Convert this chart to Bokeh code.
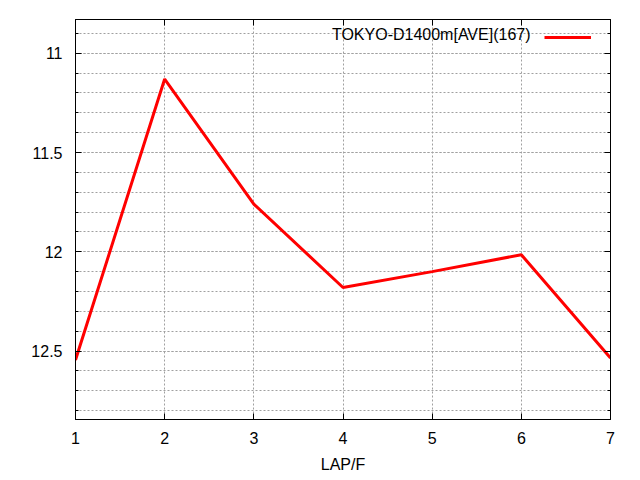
from bokeh.plotting import figure
from bokeh.models import Range1d, FixedTicker, LinearAxis, Legend, LegendItem, Label
from bokeh.embed import file_html
from bokeh.resources import INLINE

# data
laps = [1, 2, 3, 4, 5, 6, 7]
times = [12.545, 11.13, 11.76, 12.18, 12.10, 12.015, 12.535]
series_name = "TOKYO-D1400m[AVE](167)"
x_ticks = [1, 2, 3, 4, 5, 6, 7]
y_ticks = [11, 11.5, 12, 12.5]
y_tick_labels = ["11", "11.5", "12", "12.5"]
y_minor = [10.9, 11.0, 11.1, 11.2, 11.3, 11.4, 11.5, 11.6, 11.7, 11.8, 11.9,
           12.0, 12.1, 12.2, 12.3, 12.4, 12.5, 12.6, 12.7, 12.8]
x_label = "LAP/F"

FONT = "Liberation Sans"
FS = "16px"
GRID = "#a0a0a0"

p = figure(width=640, height=480, output_backend="svg", toolbar_location=None,
           x_range=Range1d(1, 7), y_range=Range1d(12.845, 10.83),
           min_border_left=75, min_border_right=30, min_border_top=19, min_border_bottom=61,
           x_axis_label=x_label)
p.background_fill_color = "white"
p.border_fill_color = "white"
p.outline_line_color = "black"
p.outline_line_width = 1

xt = FixedTicker(ticks=x_ticks, minor_ticks=[])
yt = FixedTicker(ticks=y_ticks, minor_ticks=y_minor)
p.xaxis.ticker = xt
p.yaxis.ticker = yt
p.yaxis.major_label_overrides = {t: s for t, s in zip(y_ticks, y_tick_labels)}

for ax in p.xaxis + p.yaxis:
    ax.axis_line_color = "black"
    ax.major_tick_in = 6
    ax.major_tick_out = 0
    ax.minor_tick_in = 3
    ax.minor_tick_out = 0
    ax.major_tick_line_color = "black"
    ax.minor_tick_line_color = "black"
    ax.major_label_text_font = FONT
    ax.major_label_text_font_size = FS
    ax.major_label_text_color = "black"
    ax.axis_label_text_font = FONT
    ax.axis_label_text_font_size = FS
    ax.axis_label_text_font_style = "normal"
    ax.axis_label_text_color = "black"
p.yaxis.major_label_standoff = 13
p.xaxis.major_label_standoff = 12
p.xaxis.axis_label_standoff = 9

# mirrored axes (ticks only)
right = LinearAxis(ticker=yt, major_tick_in=6, major_tick_out=0, minor_tick_in=3, minor_tick_out=0,
                   major_label_text_color=None, major_label_standoff=0, axis_line_color="black")
above = LinearAxis(ticker=xt, major_tick_in=6, major_tick_out=0, minor_tick_in=0, minor_tick_out=0,
                   major_label_text_color=None, major_label_standoff=0, axis_line_color="black")
p.add_layout(right, "right")
p.add_layout(above, "above")

p.xgrid.ticker = xt
p.ygrid.ticker = yt
for g in (p.xgrid, p.ygrid):
    g.grid_line_color = GRID
    g.grid_line_dash = "2 2"
    g.grid_line_width = 1
p.ygrid.minor_grid_line_color = GRID
p.ygrid.minor_grid_line_dash = "2 2"

r = p.line(laps, times, line_color="red", line_width=3)

legend = Legend(items=[LegendItem(label=" ", renderers=[r])], location=(469, 377),
                padding=0, margin=0, spacing=0, label_standoff=0, label_width=0,
                label_height=0, glyph_width=47, glyph_height=10,
                label_text_font_size="1px", border_line_color=None,
                background_fill_alpha=0)
p.add_layout(legend)

p.add_layout(Label(x=455, y=385, x_units="screen", y_units="screen", text=series_name,
                   text_align="right", text_baseline="middle", text_font=FONT,
                   text_font_size=FS, text_color="black"))

open("out.html", "w").write(file_html(p, INLINE))
